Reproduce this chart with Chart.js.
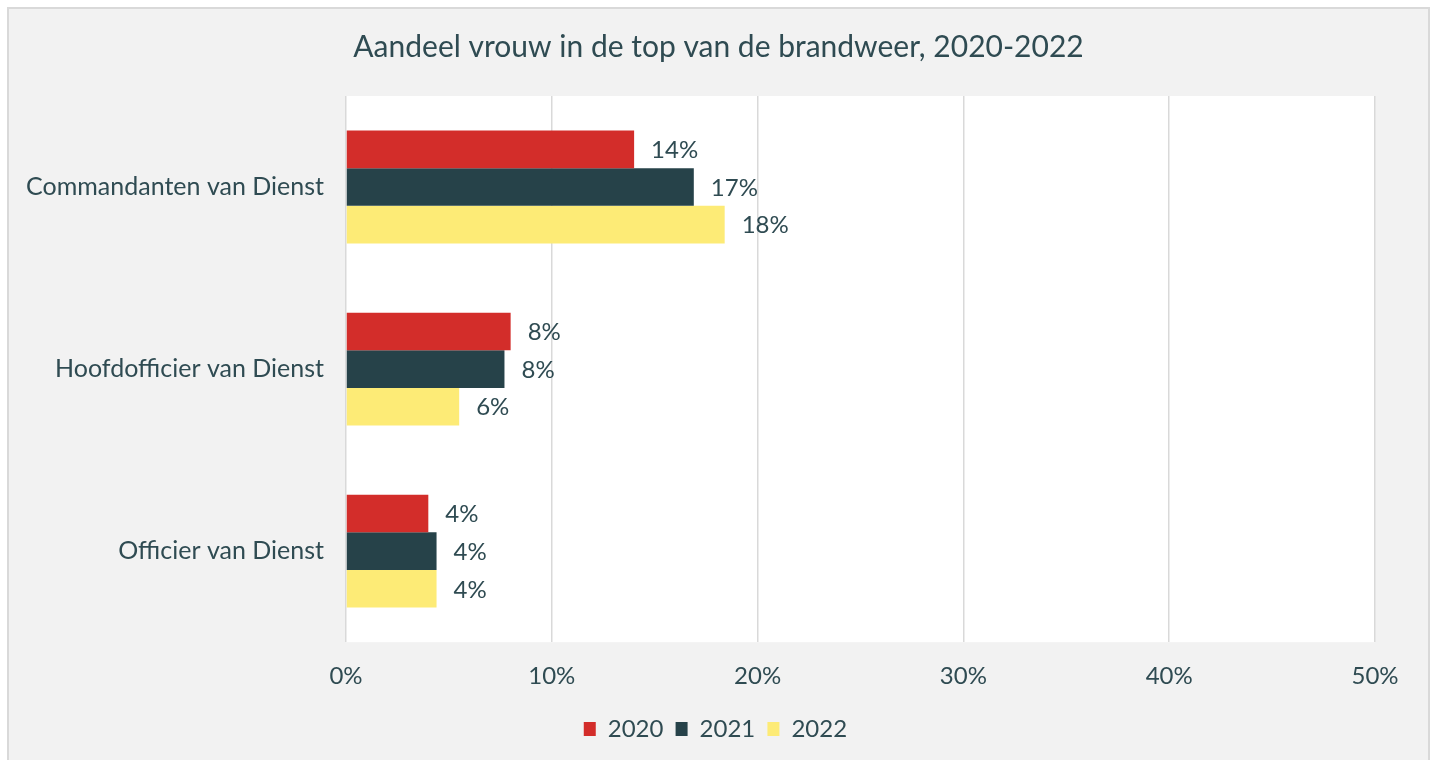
<!DOCTYPE html>
<html lang="nl">
<head>
<meta charset="UTF-8">
<title>Aandeel vrouw in de top van de brandweer</title>
<script src="https://cdn.jsdelivr.net/npm/chart.js@4.4.0/dist/chart.umd.min.js"></script>
<style>
  html, body { margin: 0; padding: 0; background: #fff; }
  #wrap {
    position: absolute;
    left: 7px; top: 7px;
    width: 1419px; height: 760px;
    border: 2px solid #d9d9d9;
    background: #f2f2f2;
  }
  #chart { display: block; }
</style>
</head>
<body>
<div id="wrap"><canvas id="chart" width="1419" height="751"></canvas></div>
<script>
  const categories = ['Commandanten van Dienst', 'Hoofdofficier van Dienst', 'Officier van Dienst'];
  const years = ['2020', '2021', '2022'];
  const values2020 = [14.0, 8.0, 4.0];
  const values2021 = [16.9, 7.7, 4.4];
  const values2022 = [18.4, 5.5, 4.4];
  const colors = ['#d32d2a', '#264249', '#fdeb76'];
  const textColor = '#2f4b52';
  const fontFamily = 'Lato, "Open Sans", sans-serif';

  Chart.defaults.font.family = fontFamily;
  Chart.defaults.font.weight = 400;
  Chart.defaults.color = textColor;

  // white plot area
  const plotBackground = {
    id: 'plotBackground',
    beforeDraw(chart) {
      const a = chart.chartArea;
      chart.ctx.save();
      chart.ctx.fillStyle = '#ffffff';
      chart.ctx.fillRect(a.left, a.top, a.right - a.left, a.bottom - a.top);
      chart.ctx.restore();
    }
  };

  // value labels right of each bar
  const barLabels = {
    id: 'barLabels',
    afterDatasetsDraw(chart) {
      const ctx = chart.ctx;
      ctx.save();
      ctx.font = '400 24px ' + fontFamily;
      ctx.fillStyle = textColor;
      ctx.textAlign = 'left';
      ctx.textBaseline = 'middle';
      chart.data.datasets.forEach((ds, i) => {
        chart.getDatasetMeta(i).data.forEach((bar, j) => {
          ctx.fillText(Math.round(ds.data[j]) + '%', bar.x + 17, bar.y + 1);
        });
      });
      ctx.restore();
    }
  };

  new Chart(document.getElementById('chart'), {
    type: 'bar',
    data: {
      labels: categories,
      datasets: [
        { label: years[0], data: values2020, backgroundColor: colors[0] },
        { label: years[1], data: values2021, backgroundColor: colors[1] },
        { label: years[2], data: values2022, backgroundColor: colors[2] }
      ]
    },
    options: {
      indexAxis: 'y',
      responsive: false,
      animation: false,
      layout: { padding: { left: 0, right: 0, top: 0, bottom: 9 } },
      datasets: {
        bar: { categoryPercentage: 0.62, barPercentage: 1.0, borderWidth: 0 }
      },
      scales: {
        x: {
          min: 0,
          max: 50,
          ticks: {
            stepSize: 10,
            padding: 20,
            font: { size: 24 },
            callback: (v) => v + '%'
          },
          grid: { color: '#d9d9d9', lineWidth: 1.5, drawTicks: false },
          border: { display: false }
        },
        y: {
          afterFit(scale) { scale.width = 337; },
          ticks: { padding: 14, font: { size: 25 } },
          grid: { display: false },
          border: { display: false }
        },
        // empty right margin so title and legend stay centred on the frame
        yRight: {
          type: 'category',
          position: 'right',
          afterFit(scale) { scale.width = 53; },
          ticks: { display: false },
          grid: { display: false },
          border: { display: false }
        }
      },
      plugins: {
        title: {
          display: true,
          text: 'Aandeel vrouw in de top van de brandweer, 2020-2022',
          font: { size: 30, weight: 400 },
          padding: { top: 20, bottom: 31 }
        },
        legend: {
          position: 'bottom',
          labels: {
            boxWidth: 12,
            boxHeight: 14,
            padding: 6,
            font: { size: 24 },
            generateLabels(chart) {
              return Chart.defaults.plugins.legend.labels.generateLabels(chart)
                .map((item) => ({ ...item, text: item.text + ' ' }));
            }
          }
        },
        tooltip: { enabled: false }
      }
    },
    plugins: [plotBackground, barLabels]
  });
</script>
</body>
</html>
